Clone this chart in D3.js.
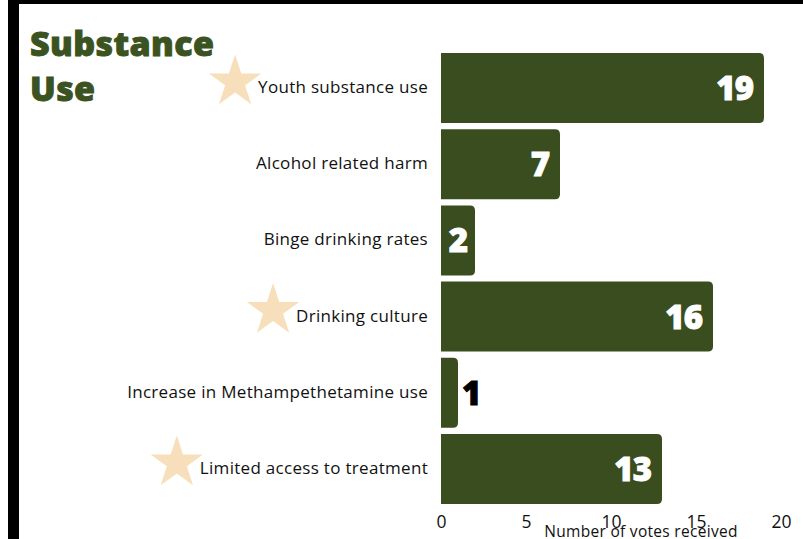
<!DOCTYPE html>
<html>
<head>
<meta charset="utf-8">
<script src="https://cdn.jsdelivr.net/npm/d3@7"></script>
<style>
  body { margin: 0; background: #fff; }
  svg { display: block; }
</style>
</head>
<body>
<div class="container"></div>
<script>
// chart data
const categories = [
  "Youth substance use",
  "Alcohol related harm",
  "Binge drinking rates",
  "Drinking culture",
  "Increase in Methampethetamine use",
  "Limited access to treatment"
];
const votes = [19, 7, 2, 16, 1, 13];
const starred = [true, false, false, true, false, true];
const tickValues = [0, 5, 10, 15, 20];

// svg dimensions
const width = 803;
const height = 539;
const green = "#3a4d1f";
const starColor = "#f7dfbc";
const labelFont = "'Open Sans', sans-serif";
const heavyFont = "'Open Sans', sans-serif";

const svg = d3.select('.container')
  .append('svg')
  .attr('width', width)
  .attr('height', height);

// frame: top rule and left bar
svg.append('rect').attr('x', 8).attr('y', 0).attr('width', width - 8).attr('height', 4).attr('fill', '#000');
svg.append('rect').attr('x', 8).attr('y', 0).attr('width', 11).attr('height', height).attr('fill', '#000');

// title
const title = svg.append('text')
  .attr('fill', '#3b5221')
  .attr('stroke', '#3b5221')
  .attr('stroke-width', 0.9)
  .style('font-family', heavyFont)
  .style('font-weight', 800)
  .style('font-size', '34px')
  .style('letter-spacing', '0.4px');
title.append('tspan').attr('x', 30).attr('y', 56).text('Substance');
title.append('tspan').attr('x', 30).attr('y', 101).text('Use');

// scales
const xScale = d3.scaleLinear().domain([0, 20]).range([441, 781]);
const yScale = d3.scaleBand()
  .domain(categories)
  .range([50, 507])
  .paddingInner(0.08)
  .paddingOuter(0.04);

// bar with rounded right corners
function barPath(x0, y0, w, h, r) {
  r = Math.min(r, w / 2, h / 2);
  return `M${x0},${y0}H${x0 + w - r}Q${x0 + w},${y0} ${x0 + w},${y0 + r}` +
    `V${y0 + h - r}Q${x0 + w},${y0 + h} ${x0 + w - r},${y0 + h}H${x0}Z`;
}

// 5-point star
function starPath(cx, cy, R) {
  const r = R * 0.382;
  const pts = [];
  for (let i = 0; i < 10; i++) {
    const a = -Math.PI / 2 + i * Math.PI / 5;
    const rad = i % 2 === 0 ? R : r;
    pts.push([cx + rad * Math.cos(a), cy + rad * Math.sin(a)]);
  }
  return 'M' + pts.map(p => p.join(',')).join('L') + 'Z';
}

const rows = categories.map((c, i) => ({ cat: c, value: votes[i], star: starred[i] }));

// category labels
const labels = svg.selectAll('.cat-label')
  .data(rows)
  .enter()
  .append('text')
  .attr('class', 'cat-label')
  .attr('x', xScale(0) - 13)
  .attr('y', d => yScale(d.cat) + yScale.bandwidth() / 2 + 5)
  .attr('text-anchor', 'end')
  .attr('fill', '#111')
  .style('font-family', labelFont)
  .style('font-size', '17px')
  .style('letter-spacing', '0.3px')
  .text(d => d.cat);

// stars next to the highlighted labels
labels.each(function(d) {
  if (!d.star) return;
  const len = this.getComputedTextLength();
  const cx = xScale(0) - 13 - len - 23;
  const cy = yScale(d.cat) + yScale.bandwidth() / 2 - 6;
  svg.insert('path', '.cat-label')
    .attr('d', starPath(cx, cy, 27.5))
    .attr('fill', starColor);
});

// bars
svg.selectAll('.bar')
  .data(rows)
  .enter()
  .append('path')
  .attr('class', 'bar')
  .attr('d', d => barPath(xScale(0), yScale(d.cat), xScale(d.value) - xScale(0), yScale.bandwidth(), 5))
  .attr('fill', green);

// value labels
svg.selectAll('.value')
  .data(rows)
  .enter()
  .append('text')
  .attr('class', 'value')
  .attr('y', d => yScale(d.cat) + yScale.bandwidth() / 2 + 12)
  .attr('stroke-width', 0.9)
  .style('font-family', heavyFont)
  .style('font-weight', 800)
  .style('font-size', '33px')
  .style('letter-spacing', '-1px')
  .text(d => d.value)
  .each(function(d) {
    const w = this.getComputedTextLength();
    const barW = xScale(d.value) - xScale(0);
    const sel = d3.select(this);
    if (barW >= w + 24) {
      sel.attr('x', xScale(d.value) - 11).attr('text-anchor', 'end').attr('fill', '#fff').attr('stroke', '#fff');
    } else if (barW >= w + 6) {
      sel.attr('x', xScale(0) + barW / 2).attr('text-anchor', 'middle').attr('fill', '#fff').attr('stroke', '#fff');
    } else {
      sel.attr('x', xScale(d.value) + 4).attr('text-anchor', 'start').attr('fill', '#000').attr('stroke', '#000');
    }
  });

// x axis
const xAxis = d3.axisBottom(xScale).tickValues(tickValues).tickSize(0).tickPadding(0);
const axisG = svg.append('g')
  .attr('transform', 'translate(0,512)')
  .call(xAxis);
axisG.select('.domain').remove();
axisG.selectAll('text')
  .attr('fill', '#111')
  .attr('dy', '0.9em')
  .style('font-family', labelFont)
  .style('font-size', '17.5px');

// axis title
svg.append('text')
  .attr('x', 641)
  .attr('y', 537)
  .attr('text-anchor', 'middle')
  .attr('fill', '#111')
  .style('font-family', labelFont)
  .style('font-size', '15.5px')
  .style('letter-spacing', '0.3px')
  .text('Number of votes received');
</script>
</body>
</html>
